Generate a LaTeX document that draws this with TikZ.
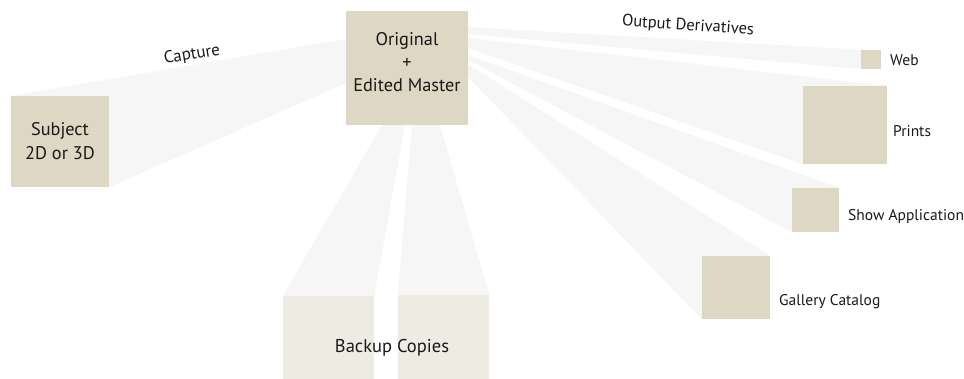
\documentclass[tikz,border=0pt]{standalone}
\usepackage{fontspec}
\setmainfont{PT Sans}
\usetikzlibrary{backgrounds}
\definecolor{boxc}{RGB}{221,215,195}
\definecolor{backc}{RGB}{238,235,227}
\definecolor{beamc}{RGB}{246,246,246}
\tikzset{
  tanbox/.style={fill=boxc, draw=none, inner sep=0pt},
  bkbox/.style={fill=backc, draw=none, inner sep=0pt},
  beam/.style={fill=beamc, draw=none},
  lbl/.style={font=\fontsize{15.5}{17}\selectfont, inner sep=0pt, text=black!90},
  big/.style={font=\fontsize{18.3}{23}\selectfont, align=center, inner sep=0pt, text=black!90}
}
\begin{document}
\begin{tikzpicture}[x=1pt,y=-1pt]
\useasboundingbox (0,0) rectangle (964,379);
% boxes
\node[tanbox, minimum width=122pt, minimum height=114pt] (m) at (407,68) {};
\node[big] (mt) at (407,62) {Original\\+\\Edited Master};
\node[tanbox, minimum width=98pt, minimum height=91pt, big, font=\fontsize{18.3}{24}\selectfont] (s) at (60,141.5) {Subject\\2D or 3D};
\node[tanbox, minimum width=20pt, minimum height=19pt] (web) at (871,59.5) {};
\node[tanbox, minimum width=84pt, minimum height=78pt] (pr) at (845,125) {};
\node[tanbox, minimum width=47pt, minimum height=44pt] (sh) at (815.5,210) {};
\node[tanbox, minimum width=68pt, minimum height=63pt] (ga) at (736,287.5) {};
\node[bkbox, minimum width=91pt, minimum height=83pt] (bl) at (328.5,337.5) {};
\node[bkbox, minimum width=91pt, minimum height=84pt] (br) at (443.5,337) {};
% labels
\node[lbl, anchor=west] (lweb) at (890,60) {Web};
\node[lbl, anchor=west] (lpr) at (893,131) {Prints};
\node[lbl, anchor=west] (lsh) at (848,216.5) {Show Application};
\node[lbl, anchor=west] (lga) at (779,302) {Gallery Catalog};
\node[big, font=\fontsize{18.5}{20}\selectfont] (lbk) at (392,348) {Backup Copies};
\node[lbl, font=\fontsize{17}{19}\selectfont, rotate=9.5] (lcap) at (192,55) {Capture};
\node[lbl, font=\fontsize{16.5}{19}\selectfont, rotate=-4] (lout) at (688,26) {Output Derivatives};
% beams
\begin{scope}[on background layer]
\coordinate (c1) at (346,39); \coordinate (c2) at (346,83);
\fill[beam] (c1) -- (s.north west) -- (s.south east) -- (c2) -- cycle;
\coordinate (w1) at (468,27); \coordinate (w2) at (468,34);
\fill[beam] (w1) -- (web.north west) -- (web.south west) -- (w2) -- cycle;
\coordinate (p1) at (468,38); \coordinate (p2) at (468,48);
\fill[beam] (p1) -- (pr.north east) -- (pr.south west) -- (p2) -- cycle;
\coordinate (h1) at (468,55); \coordinate (h2) at (468,60);
\fill[beam] (h1) -- (sh.north east) -- (sh.south west) -- (h2) -- cycle;
\coordinate (g1) at (468,64); \coordinate (g2) at (468,77);
\fill[beam] (g1) -- (ga.north east) -- (ga.south west) -- (g2) -- cycle;
\coordinate (b1) at (382,125); \coordinate (b2) at (405,125);
\fill[beam] (b1) -- (bl.north west) -- (bl.north east) -- (b2) -- cycle;
\coordinate (b3) at (412,125); \coordinate (b4) at (440,125);
\fill[beam] (b3) -- (br.north west) -- (br.north east) -- (b4) -- cycle;
\end{scope}
\end{tikzpicture}
\end{document}
